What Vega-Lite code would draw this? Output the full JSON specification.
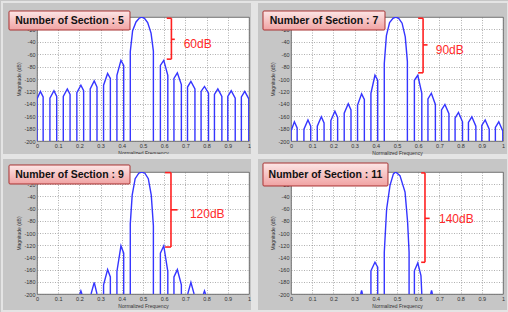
{
  "$schema": "https://vega.github.io/schema/vega-lite/v6.json",
  "padding": 0,
  "background": "#c6c6c6",
  "config": {
    "view": {"fill": "white", "stroke": "#555555", "strokeWidth": 0.8},
    "axis": {
      "grid": true, "gridColor": "#7a7a7a", "gridDash": [1, 1.5], "gridWidth": 0.6,
      "domain": false, "ticks": false,
      "labelFont": "Liberation Sans", "labelFontSize": 5.5, "labelColor": "#333333", "labelPadding": 2,
      "labelFlush": false, "labelOverlap": false, "labelBound": false,
      "titleFont": "Liberation Sans", "titleFontSize": 5, "titleFontWeight": "normal", "titleColor": "#333333", "titlePadding": 2
    }
  },
  "datasets": {
    "n5": [
      {"k":1,"f":0,"db":-200},{"k":1,"f":0,"db":-132},{"k":1,"f":0.016,"db":-120},{"k":1,"f":0.029,"db":-129},{"k":1,"f":0.029,"db":-200},
      {"k":2,"f":0.061,"db":-200},{"k":2,"f":0.061,"db":-131},{"k":2,"f":0.08,"db":-119},{"k":2,"f":0.093,"db":-128},{"k":2,"f":0.093,"db":-200},
      {"k":3,"f":0.124,"db":-200},{"k":3,"f":0.124,"db":-128},{"k":3,"f":0.143,"db":-116},{"k":3,"f":0.156,"db":-125},{"k":3,"f":0.156,"db":-200},
      {"k":4,"f":0.188,"db":-200},{"k":4,"f":0.188,"db":-122},{"k":4,"f":0.207,"db":-110},{"k":4,"f":0.22,"db":-119},{"k":4,"f":0.22,"db":-200},
      {"k":5,"f":0.251,"db":-200},{"k":5,"f":0.251,"db":-116},{"k":5,"f":0.27,"db":-103},{"k":5,"f":0.283,"db":-113},{"k":5,"f":0.283,"db":-200},
      {"k":6,"f":0.314,"db":-200},{"k":6,"f":0.314,"db":-110},{"k":6,"f":0.333,"db":-91},{"k":6,"f":0.346,"db":-99},{"k":6,"f":0.346,"db":-200},
      {"k":7,"f":0.377,"db":-200},{"k":7,"f":0.377,"db":-94},{"k":7,"f":0.396,"db":-70},{"k":7,"f":0.409,"db":-78},{"k":7,"f":0.409,"db":-200},
      {"k":8,"f":0.44,"db":-200},{"k":8,"f":0.44,"db":-56},{"k":8,"f":0.451,"db":-22},{"k":8,"f":0.467,"db":-8},{"k":8,"f":0.482,"db":-2},{"k":8,"f":0.494,"db":0},{"k":8,"f":0.507,"db":-2},{"k":8,"f":0.522,"db":-9},{"k":8,"f":0.538,"db":-26},{"k":8,"f":0.549,"db":-55},{"k":8,"f":0.549,"db":-200},
      {"k":9,"f":0.582,"db":-200},{"k":9,"f":0.582,"db":-78},{"k":9,"f":0.598,"db":-70},{"k":9,"f":0.617,"db":-94},{"k":9,"f":0.617,"db":-200},
      {"k":10,"f":0.646,"db":-200},{"k":10,"f":0.646,"db":-99},{"k":10,"f":0.662,"db":-90},{"k":10,"f":0.681,"db":-109},{"k":10,"f":0.681,"db":-200},
      {"k":11,"f":0.71,"db":-200},{"k":11,"f":0.71,"db":-113},{"k":11,"f":0.726,"db":-104},{"k":11,"f":0.745,"db":-116},{"k":11,"f":0.745,"db":-200},
      {"k":12,"f":0.774,"db":-200},{"k":12,"f":0.774,"db":-120},{"k":12,"f":0.79,"db":-112},{"k":12,"f":0.809,"db":-123},{"k":12,"f":0.809,"db":-200},
      {"k":13,"f":0.837,"db":-200},{"k":13,"f":0.837,"db":-125},{"k":13,"f":0.853,"db":-116},{"k":13,"f":0.872,"db":-128},{"k":13,"f":0.872,"db":-200},
      {"k":14,"f":0.9,"db":-200},{"k":14,"f":0.9,"db":-128},{"k":14,"f":0.916,"db":-119},{"k":14,"f":0.935,"db":-131},{"k":14,"f":0.935,"db":-200},
      {"k":15,"f":0.964,"db":-200},{"k":15,"f":0.964,"db":-129},{"k":15,"f":0.98,"db":-120},{"k":15,"f":0.999,"db":-132},{"k":15,"f":0.999,"db":-200}
    ],
    "n7": [
      {"k":1,"f":0,"db":-200},{"k":1,"f":0,"db":-184},{"k":1,"f":0.016,"db":-169},{"k":1,"f":0.029,"db":-179},{"k":1,"f":0.029,"db":-200},
      {"k":2,"f":0.061,"db":-200},{"k":2,"f":0.061,"db":-181},{"k":2,"f":0.08,"db":-166},{"k":2,"f":0.093,"db":-176},{"k":2,"f":0.093,"db":-200},
      {"k":3,"f":0.124,"db":-200},{"k":3,"f":0.124,"db":-176},{"k":3,"f":0.143,"db":-161},{"k":3,"f":0.156,"db":-171},{"k":3,"f":0.156,"db":-200},
      {"k":4,"f":0.188,"db":-200},{"k":4,"f":0.188,"db":-167},{"k":4,"f":0.207,"db":-152},{"k":4,"f":0.22,"db":-162},{"k":4,"f":0.22,"db":-200},
      {"k":5,"f":0.251,"db":-200},{"k":5,"f":0.251,"db":-155},{"k":5,"f":0.27,"db":-140},{"k":5,"f":0.283,"db":-150},{"k":5,"f":0.283,"db":-200},
      {"k":6,"f":0.314,"db":-200},{"k":6,"f":0.314,"db":-142},{"k":6,"f":0.333,"db":-124},{"k":6,"f":0.346,"db":-133},{"k":6,"f":0.346,"db":-200},
      {"k":7,"f":0.377,"db":-200},{"k":7,"f":0.377,"db":-123},{"k":7,"f":0.396,"db":-94},{"k":7,"f":0.409,"db":-102},{"k":7,"f":0.409,"db":-200},
      {"k":8,"f":0.44,"db":-200},{"k":8,"f":0.44,"db":-75},{"k":8,"f":0.45,"db":-30},{"k":8,"f":0.465,"db":-9},{"k":8,"f":0.481,"db":-2},{"k":8,"f":0.494,"db":0},{"k":8,"f":0.508,"db":-2},{"k":8,"f":0.524,"db":-10},{"k":8,"f":0.539,"db":-32},{"k":8,"f":0.549,"db":-72},{"k":8,"f":0.549,"db":-200},
      {"k":9,"f":0.582,"db":-200},{"k":9,"f":0.582,"db":-102},{"k":9,"f":0.598,"db":-94},{"k":9,"f":0.617,"db":-123},{"k":9,"f":0.617,"db":-200},
      {"k":10,"f":0.646,"db":-200},{"k":10,"f":0.646,"db":-132},{"k":10,"f":0.662,"db":-123},{"k":10,"f":0.681,"db":-141},{"k":10,"f":0.681,"db":-200},
      {"k":11,"f":0.71,"db":-200},{"k":11,"f":0.71,"db":-150},{"k":11,"f":0.726,"db":-141},{"k":11,"f":0.745,"db":-156},{"k":11,"f":0.745,"db":-200},
      {"k":12,"f":0.774,"db":-200},{"k":12,"f":0.774,"db":-163},{"k":12,"f":0.79,"db":-154},{"k":12,"f":0.809,"db":-169},{"k":12,"f":0.809,"db":-200},
      {"k":13,"f":0.837,"db":-200},{"k":13,"f":0.837,"db":-170},{"k":13,"f":0.853,"db":-161},{"k":13,"f":0.872,"db":-176},{"k":13,"f":0.872,"db":-200},
      {"k":14,"f":0.9,"db":-200},{"k":14,"f":0.9,"db":-175},{"k":14,"f":0.916,"db":-166},{"k":14,"f":0.935,"db":-181},{"k":14,"f":0.935,"db":-200},
      {"k":15,"f":0.964,"db":-200},{"k":15,"f":0.964,"db":-178},{"k":15,"f":0.98,"db":-169},{"k":15,"f":0.999,"db":-184},{"k":15,"f":0.999,"db":-200}
    ],
    "n9": [
      {"k":1,"f":0.202,"db":-200},{"k":1,"f":0.207,"db":-195},{"k":1,"f":0.212,"db":-200},
      {"k":2,"f":0.255,"db":-200},{"k":2,"f":0.27,"db":-181},{"k":2,"f":0.283,"db":-200},
      {"k":3,"f":0.314,"db":-200},{"k":3,"f":0.314,"db":-185},{"k":3,"f":0.333,"db":-160},{"k":3,"f":0.346,"db":-172},{"k":3,"f":0.346,"db":-200},
      {"k":4,"f":0.377,"db":-200},{"k":4,"f":0.377,"db":-163},{"k":4,"f":0.396,"db":-121},{"k":4,"f":0.409,"db":-133},{"k":4,"f":0.409,"db":-200},
      {"k":5,"f":0.44,"db":-200},{"k":5,"f":0.44,"db":-85},{"k":5,"f":0.449,"db":-38},{"k":5,"f":0.463,"db":-11},{"k":5,"f":0.48,"db":-2},{"k":5,"f":0.494,"db":0},{"k":5,"f":0.509,"db":-2},{"k":5,"f":0.525,"db":-11},{"k":5,"f":0.539,"db":-38},{"k":5,"f":0.549,"db":-88},{"k":5,"f":0.549,"db":-200},
      {"k":6,"f":0.582,"db":-200},{"k":6,"f":0.582,"db":-133},{"k":6,"f":0.598,"db":-121},{"k":6,"f":0.617,"db":-163},{"k":6,"f":0.617,"db":-200},
      {"k":7,"f":0.646,"db":-200},{"k":7,"f":0.646,"db":-172},{"k":7,"f":0.662,"db":-160},{"k":7,"f":0.681,"db":-185},{"k":7,"f":0.681,"db":-200},
      {"k":8,"f":0.711,"db":-200},{"k":8,"f":0.726,"db":-181},{"k":8,"f":0.741,"db":-200},
      {"k":9,"f":0.785,"db":-200},{"k":9,"f":0.79,"db":-195},{"k":9,"f":0.795,"db":-200}
    ],
    "n11": [
      {"k":1,"f":0.329,"db":-200},{"k":1,"f":0.333,"db":-194},{"k":1,"f":0.337,"db":-200},
      {"k":2,"f":0.377,"db":-200},{"k":2,"f":0.377,"db":-162},{"k":2,"f":0.396,"db":-148},{"k":2,"f":0.409,"db":-156},{"k":2,"f":0.409,"db":-200},
      {"k":3,"f":0.44,"db":-200},{"k":3,"f":0.44,"db":-132},{"k":3,"f":0.451,"db":-61},{"k":3,"f":0.467,"db":-22},{"k":3,"f":0.483,"db":-3},{"k":3,"f":0.494,"db":0},{"k":3,"f":0.514,"db":-6},{"k":3,"f":0.538,"db":-33},{"k":3,"f":0.55,"db":-82},{"k":3,"f":0.557,"db":-132},{"k":3,"f":0.557,"db":-200},
      {"k":4,"f":0.582,"db":-200},{"k":4,"f":0.582,"db":-162},{"k":4,"f":0.598,"db":-149},{"k":4,"f":0.613,"db":-170},{"k":4,"f":0.617,"db":-200},
      {"k":5,"f":0.659,"db":-200},{"k":5,"f":0.663,"db":-194},{"k":5,"f":0.667,"db":-200}
    ],
    "br": [
      {"n":5,"x1":0.612,"x2":0.634,"y1":-2,"y2":-2},{"n":5,"x1":0.612,"x2":0.634,"y1":-68,"y2":-68},{"n":5,"x1":0.634,"x2":0.634,"y1":-2,"y2":-68},{"n":5,"x1":0.634,"x2":0.65,"y1":-36,"y2":-36},
      {"n":7,"x1":0.6,"x2":0.623,"y1":-2,"y2":-2},{"n":7,"x1":0.6,"x2":0.623,"y1":-90,"y2":-90},{"n":7,"x1":0.623,"x2":0.623,"y1":-2,"y2":-90},{"n":7,"x1":0.623,"x2":0.644,"y1":-45,"y2":-45},
      {"n":9,"x1":0.604,"x2":0.632,"y1":-1,"y2":-1},{"n":9,"x1":0.604,"x2":0.632,"y1":-123,"y2":-123},{"n":9,"x1":0.632,"x2":0.632,"y1":-1,"y2":-123},{"n":9,"x1":0.632,"x2":0.663,"y1":-62,"y2":-62},
      {"n":11,"x1":0.614,"x2":0.632,"y1":-1.5,"y2":-1.5},{"n":11,"x1":0.614,"x2":0.632,"y1":-148,"y2":-148},{"n":11,"x1":0.632,"x2":0.632,"y1":-1.5,"y2":-148},{"n":11,"x1":0.632,"x2":0.654,"y1":-76,"y2":-76}
    ],
    "lab": [
      {"n":5,"f":0.758,"db":-44,"text":"60dB"},
      {"n":7,"f":0.749,"db":-54,"text":"90dB"},
      {"n":9,"f":0.803,"db":-69,"text":"120dB"},
      {"n":11,"f":0.78,"db":-77,"text":"140dB"}
    ],
    "ttl": [
      {"n":5,"title":"Number of Section : 5"},
      {"n":7,"title":"Number of Section : 7"},
      {"n":9,"title":"Number of Section : 9"},
      {"n":11,"title":"Number of Section : 11"}
    ]
  },
  "columns": 2,
  "spacing": {"row": 31, "column": 42},
  "bounds": "flush",
  "concat": [
    {
      "width": 212, "height": 124,
      "layer": [
        {"data": {"values": [{}]}, "mark": {"type": "rect", "color": "#e4e4e4"}, "encoding": {"x": {"datum": -0.1698}, "x2": {"datum": 2.2264}, "y": {"datum": 25.81}, "y2": {"datum": 22.58}}},
        {"data": {"values": [{}]}, "mark": {"type": "rect", "color": "#e4e4e4"}, "encoding": {"x": {"datum": -0.1698}, "x2": {"datum": -0.1604}, "y": {"datum": 25.81}, "y2": {"datum": -477.4}}},
        {"data": {"values": [{}]}, "mark": {"type": "rect", "color": "#e4e4e4"}, "encoding": {"x": {"datum": 2.217}, "x2": {"datum": 2.2264}, "y": {"datum": 25.81}, "y2": {"datum": -477.4}}},
        {"data": {"values": [{}]}, "mark": {"type": "rect", "color": "#e4e4e4"}, "encoding": {"x": {"datum": -0.1698}, "x2": {"datum": 2.2264}, "y": {"datum": -472.6}, "y2": {"datum": -477.4}}},
        {"data": {"values": [{}]}, "mark": {"type": "rect", "color": "#e4e4e4"}, "encoding": {"x": {"datum": 1.0094}, "x2": {"datum": 1.0425}, "y": {"datum": 25.81}, "y2": {"datum": -477.4}}},
        {"data": {"values": [{}]}, "mark": {"type": "rect", "color": "#e4e4e4"}, "encoding": {"x": {"datum": -0.1698}, "x2": {"datum": 2.2264}, "y": {"datum": -220.97}, "y2": {"datum": -229.03}}},
        {"data": {"name": "n5"}, "mark": {"type": "line", "clip": true, "color": "#3535ff", "strokeWidth": 1.4},
         "encoding": {
           "x": {"field": "f", "type": "quantitative", "scale": {"domain": [0, 1], "nice": false, "zero": false}, "axis": {"values": [0,0.1,0.2,0.3,0.4,0.5,0.6,0.7,0.8,0.9,1], "tickCount": 20, "title": "Normalized Frequency", "labelExpr": "datum.value + ''", "labelOverlap": false}},
           "y": {"field": "db", "type": "quantitative", "scale": {"domain": [-200, 0], "nice": false, "zero": false}, "axis": {"values": [-200,-180,-160,-140,-120,-100,-80,-60,-40,-20], "tickCount": 20, "title": "Magnitude (dB)", "labelExpr": "datum.value + ''", "labelOverlap": false}},
           "detail": {"field": "k"}, "order": {"value": null}}},
        {"data": {"name": "br"}, "transform": [{"filter": "datum.n == 5"}], "mark": {"type": "rule", "color": "#ff2020", "strokeWidth": 1.6},
         "encoding": {"x": {"field": "x1", "type": "quantitative"}, "x2": {"field": "x2"}, "y": {"field": "y1", "type": "quantitative"}, "y2": {"field": "y2"}}},
        {"data": {"name": "lab"}, "transform": [{"filter": "datum.n == 5"}], "mark": {"type": "text", "color": "#ff2a2a", "font": "Liberation Sans", "fontSize": 12, "align": "center", "baseline": "middle"},
         "encoding": {"x": {"field": "f", "type": "quantitative"}, "y": {"field": "db", "type": "quantitative"}, "text": {"field": "text"}}},
        {"data": {"name": "ttl"}, "transform": [{"filter": "datum.n == 5"}], "mark": {"type": "rect", "stroke": "#a83232", "strokeWidth": 1, "cornerRadius": 1, "fill": {"gradient": "linear", "x1": 0, "y1": 0, "x2": 0, "y2": 1, "stops": [{"offset": 0, "color": "#fde6e6"}, {"offset": 1, "color": "#f0a2a2"}]}},
         "encoding": {"x": {"datum": -0.1321}, "x2": {"datum": 0.4387}, "y": {"datum": 9.68}, "y2": {"datum": -20.97}}},
        {"data": {"name": "ttl"}, "transform": [{"filter": "datum.n == 5"}], "mark": {"type": "text", "font": "Liberation Sans", "fontWeight": "bold", "fontSize": 10.5, "color": "#111111", "align": "center", "baseline": "middle"},
         "encoding": {"x": {"datum": 0.1533}, "y": {"datum": -5.65}, "text": {"field": "title"}}}
      ]
    },
    {
      "width": 212, "height": 124,
      "layer": [
        {"data": {"name": "n7"}, "mark": {"type": "line", "clip": true, "color": "#3535ff", "strokeWidth": 1.4},
         "encoding": {
           "x": {"field": "f", "type": "quantitative", "scale": {"domain": [0, 1], "nice": false, "zero": false}, "axis": {"values": [0,0.1,0.2,0.3,0.4,0.5,0.6,0.7,0.8,0.9,1], "tickCount": 20, "title": "Normalized Frequency", "labelExpr": "datum.value + ''", "labelOverlap": false}},
           "y": {"field": "db", "type": "quantitative", "scale": {"domain": [-200, 0], "nice": false, "zero": false}, "axis": {"values": [-200,-180,-160,-140,-120,-100,-80,-60,-40,-20], "tickCount": 20, "title": "Magnitude (dB)", "labelExpr": "datum.value + ''", "labelOverlap": false}},
           "detail": {"field": "k"}, "order": {"value": null}}},
        {"data": {"name": "br"}, "transform": [{"filter": "datum.n == 7"}], "mark": {"type": "rule", "color": "#ff2020", "strokeWidth": 1.6},
         "encoding": {"x": {"field": "x1", "type": "quantitative"}, "x2": {"field": "x2"}, "y": {"field": "y1", "type": "quantitative"}, "y2": {"field": "y2"}}},
        {"data": {"name": "lab"}, "transform": [{"filter": "datum.n == 7"}], "mark": {"type": "text", "color": "#ff2a2a", "font": "Liberation Sans", "fontSize": 12, "align": "center", "baseline": "middle"},
         "encoding": {"x": {"field": "f", "type": "quantitative"}, "y": {"field": "db", "type": "quantitative"}, "text": {"field": "text"}}},
        {"data": {"name": "ttl"}, "transform": [{"filter": "datum.n == 7"}], "mark": {"type": "rect", "stroke": "#a83232", "strokeWidth": 1, "cornerRadius": 1, "fill": {"gradient": "linear", "x1": 0, "y1": 0, "x2": 0, "y2": 1, "stops": [{"offset": 0, "color": "#fde6e6"}, {"offset": 1, "color": "#f0a2a2"}]}},
         "encoding": {"x": {"datum": -0.1321}, "x2": {"datum": 0.4434}, "y": {"datum": 9.68}, "y2": {"datum": -20.97}}},
        {"data": {"name": "ttl"}, "transform": [{"filter": "datum.n == 7"}], "mark": {"type": "text", "font": "Liberation Sans", "fontWeight": "bold", "fontSize": 10.5, "color": "#111111", "align": "center", "baseline": "middle"},
         "encoding": {"x": {"datum": 0.1557}, "y": {"datum": -5.65}, "text": {"field": "title"}}}
      ]
    },
    {
      "width": 212, "height": 122,
      "layer": [
        {"data": {"name": "n9"}, "mark": {"type": "line", "clip": true, "color": "#3535ff", "strokeWidth": 1.4},
         "encoding": {
           "x": {"field": "f", "type": "quantitative", "scale": {"domain": [0, 1], "nice": false, "zero": false}, "axis": {"values": [0,0.1,0.2,0.3,0.4,0.5,0.6,0.7,0.8,0.9,1], "tickCount": 20, "title": "Normalized Frequency", "labelExpr": "datum.value + ''", "labelOverlap": false}},
           "y": {"field": "db", "type": "quantitative", "scale": {"domain": [-200, 0], "nice": false, "zero": false}, "axis": {"values": [-200,-180,-160,-140,-120,-100,-80,-60,-40,-20], "tickCount": 20, "title": "Magnitude (dB)", "labelExpr": "datum.value + ''", "labelOverlap": false}},
           "detail": {"field": "k"}, "order": {"value": null}}},
        {"data": {"name": "br"}, "transform": [{"filter": "datum.n == 9"}], "mark": {"type": "rule", "color": "#ff2020", "strokeWidth": 1.6},
         "encoding": {"x": {"field": "x1", "type": "quantitative"}, "x2": {"field": "x2"}, "y": {"field": "y1", "type": "quantitative"}, "y2": {"field": "y2"}}},
        {"data": {"name": "lab"}, "transform": [{"filter": "datum.n == 9"}], "mark": {"type": "text", "color": "#ff2a2a", "font": "Liberation Sans", "fontSize": 12, "align": "center", "baseline": "middle"},
         "encoding": {"x": {"field": "f", "type": "quantitative"}, "y": {"field": "db", "type": "quantitative"}, "text": {"field": "text"}}},
        {"data": {"name": "ttl"}, "transform": [{"filter": "datum.n == 9"}], "mark": {"type": "rect", "stroke": "#a83232", "strokeWidth": 1, "cornerRadius": 1, "fill": {"gradient": "linear", "x1": 0, "y1": 0, "x2": 0, "y2": 1, "stops": [{"offset": 0, "color": "#fde6e6"}, {"offset": 1, "color": "#f0a2a2"}]}},
         "encoding": {"x": {"datum": -0.1321}, "x2": {"datum": 0.4387}, "y": {"datum": 11.48}, "y2": {"datum": -19.67}}},
        {"data": {"name": "ttl"}, "transform": [{"filter": "datum.n == 9"}], "mark": {"type": "text", "font": "Liberation Sans", "fontWeight": "bold", "fontSize": 10.5, "color": "#111111", "align": "center", "baseline": "middle"},
         "encoding": {"x": {"datum": 0.1533}, "y": {"datum": -4.1}, "text": {"field": "title"}}}
      ]
    },
    {
      "width": 212, "height": 122,
      "layer": [
        {"data": {"name": "n11"}, "mark": {"type": "line", "clip": true, "color": "#3535ff", "strokeWidth": 1.4},
         "encoding": {
           "x": {"field": "f", "type": "quantitative", "scale": {"domain": [0, 1], "nice": false, "zero": false}, "axis": {"values": [0,0.1,0.2,0.3,0.4,0.5,0.6,0.7,0.8,0.9,1], "tickCount": 20, "title": "Normalized Frequency", "labelExpr": "datum.value + ''", "labelOverlap": false}},
           "y": {"field": "db", "type": "quantitative", "scale": {"domain": [-200, 0], "nice": false, "zero": false}, "axis": {"values": [-200,-180,-160,-140,-120,-100,-80,-60,-40,-20], "tickCount": 20, "title": "Magnitude (dB)", "labelExpr": "datum.value + ''", "labelOverlap": false}},
           "detail": {"field": "k"}, "order": {"value": null}}},
        {"data": {"name": "br"}, "transform": [{"filter": "datum.n == 11"}], "mark": {"type": "rule", "color": "#ff2020", "strokeWidth": 1.6},
         "encoding": {"x": {"field": "x1", "type": "quantitative"}, "x2": {"field": "x2"}, "y": {"field": "y1", "type": "quantitative"}, "y2": {"field": "y2"}}},
        {"data": {"name": "lab"}, "transform": [{"filter": "datum.n == 11"}], "mark": {"type": "text", "color": "#ff2a2a", "font": "Liberation Sans", "fontSize": 12, "align": "center", "baseline": "middle"},
         "encoding": {"x": {"field": "f", "type": "quantitative"}, "y": {"field": "db", "type": "quantitative"}, "text": {"field": "text"}}},
        {"data": {"name": "ttl"}, "transform": [{"filter": "datum.n == 11"}], "mark": {"type": "rect", "stroke": "#a83232", "strokeWidth": 1, "cornerRadius": 1, "fill": {"gradient": "linear", "x1": 0, "y1": 0, "x2": 0, "y2": 1, "stops": [{"offset": 0, "color": "#fde6e6"}, {"offset": 1, "color": "#f0a2a2"}]}},
         "encoding": {"x": {"datum": -0.1321}, "x2": {"datum": 0.4575}, "y": {"datum": 14.75}, "y2": {"datum": -22.95}}},
        {"data": {"name": "ttl"}, "transform": [{"filter": "datum.n == 11"}], "mark": {"type": "text", "font": "Liberation Sans", "fontWeight": "bold", "fontSize": 10.5, "color": "#111111", "align": "center", "baseline": "middle"},
         "encoding": {"x": {"datum": 0.1627}, "y": {"datum": -4.1}, "text": {"field": "title"}}}
      ]
    }
  ]
}
